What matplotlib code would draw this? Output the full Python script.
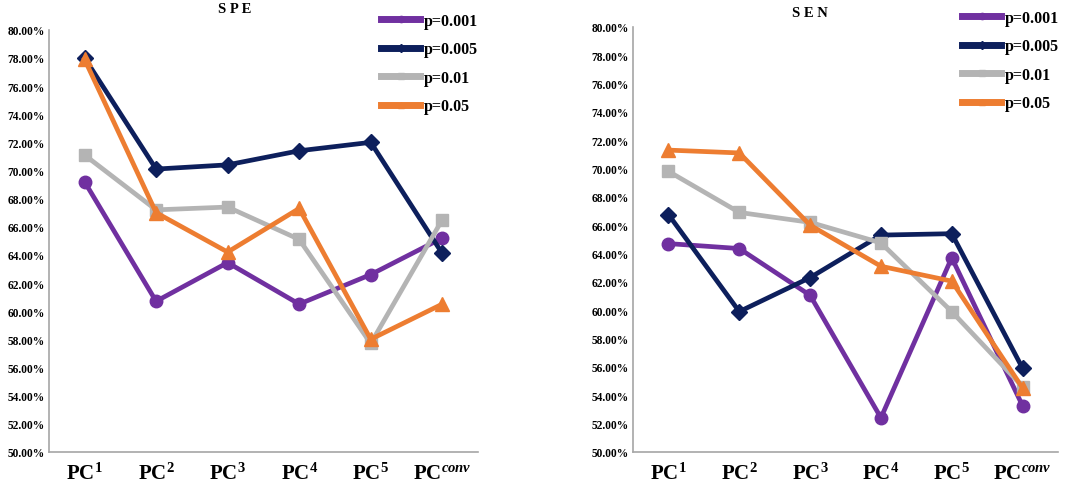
import numpy as np
import matplotlib
matplotlib.use('Agg')
import matplotlib.pyplot as plt
from matplotlib.ticker import FuncFormatter

plt.rcParams['font.family'] = ['Liberation Serif', 'DejaVu Serif']
plt.rcParams['font.weight'] = 'bold'
plt.rcParams['mathtext.fontset'] = 'custom'
plt.rcParams['mathtext.rm'] = 'Liberation Serif:bold'
plt.rcParams['mathtext.it'] = 'Liberation Serif:bold:italic'
plt.rcParams['mathtext.bf'] = 'Liberation Serif:bold'

CATEGORIES = [r'PC$^{1}$', r'PC$^{2}$', r'PC$^{3}$', r'PC$^{4}$', r'PC$^{5}$',
              r'PC$^{conv}$']
SERIES = ['p=0.001', 'p=0.005', 'p=0.01', 'p=0.05']

# SPE values (%)
SPE_001 = [69.2, 60.7, 63.45, 60.5, 62.6, 65.2]
SPE_005 = [78.0, 70.1, 70.4, 71.4, 72.0, 64.1]
SPE_01 = [71.1, 67.2, 67.4, 65.1, 57.7, 66.5]
SPE_05 = [77.9, 67.0, 64.2, 67.3, 58.0, 60.5]

# SEN values (%)
SEN_001 = [64.7, 64.35, 61.05, 52.4, 63.7, 53.25]
SEN_005 = [66.75, 59.9, 62.3, 65.3, 65.4, 55.9]
SEN_01 = [69.8, 66.9, 66.2, 64.75, 59.9, 54.6]
SEN_05 = [71.3, 71.1, 66.0, 63.1, 62.05, 54.5]

COLORS = ['#7030A0', '#0D1F5C', '#B4B4B4', '#ED7D31']
MARKERS = ['o', 'D', 's', '^']
MSIZES = [9, 8, 9, 10]

fig = plt.figure(figsize=(10.84, 4.89), dpi=100)
ax_l = fig.add_axes([0.045, 0.074, 0.396, 0.863])
ax_r = fig.add_axes([0.584, 0.074, 0.392, 0.869])

panels = [
    (ax_l, 'S P E', [SPE_001, SPE_005, SPE_01, SPE_05], (0.434, 1.05)),
    (ax_r, 'S E N', [SEN_001, SEN_005, SEN_01, SEN_05], (0.416, 1.035)),
]

x = np.arange(len(CATEGORIES))
for ax, title, data, tpos in panels:
    for vals, name, c, m, ms in zip(data, SERIES, COLORS, MARKERS, MSIZES):
        ax.plot(x, vals, color=c, lw=3.4, marker=m, markersize=ms,
                markeredgecolor=c, label=name)
    ax.set_xlim(-0.5, len(CATEGORIES) - 0.5)
    ax.set_ylim(50, 80)
    ax.set_yticks(np.arange(50, 80.1, 2))
    ax.yaxis.set_major_formatter(FuncFormatter(lambda v, p: f'{v:.2f}%'))
    ax.set_xticks(x)
    ax.set_xticklabels(CATEGORIES, fontsize=15, fontweight='bold')
    ax.tick_params(axis='y', length=0, labelsize=8.3, pad=3)
    ax.tick_params(axis='x', length=0, pad=8)
    for s in ['top', 'right']:
        ax.spines[s].set_visible(False)
    for s in ['left', 'bottom']:
        ax.spines[s].set_color('#A6A6A6')
        ax.spines[s].set_linewidth(1.2)
    ax.text(tpos[0], tpos[1], title, transform=ax.transAxes, ha='center',
            va='center', fontsize=10.5, fontweight='bold')
    leg = ax.legend(loc='upper left', bbox_to_anchor=(0.775, 1.04),
                    frameon=False, fontsize=11.5, handlelength=2.4,
                    handletextpad=0.25, labelspacing=0.78, borderpad=0,
                    borderaxespad=0, markerscale=0.5)
    for line in leg.get_lines():
        line.set_linewidth(5)

fig.savefig('out.png', dpi=100)
